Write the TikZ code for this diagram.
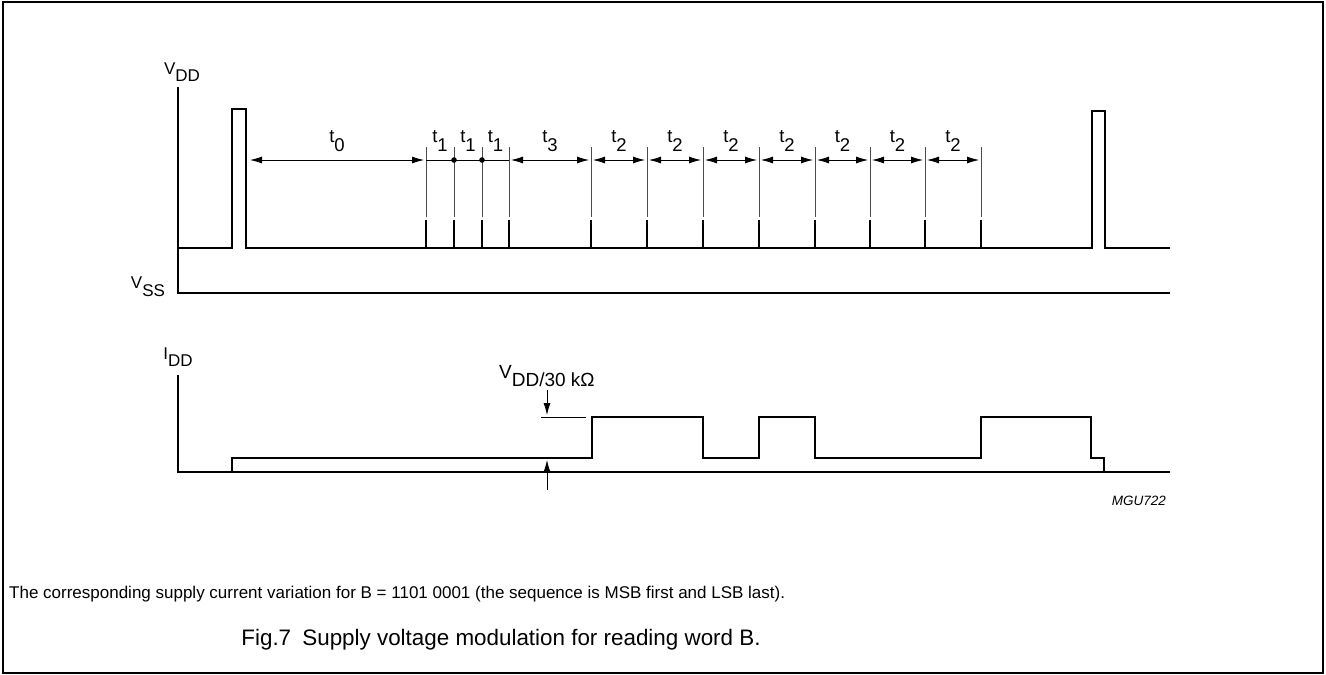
\documentclass[tikz,border=0pt]{standalone}
\usepackage{fontspec}
\setmainfont{Liberation Sans}
\usetikzlibrary{arrows.meta}
\newcommand\mysub[2]{#1\raisebox{-0.45em}{#2}}
\tikzset{
  sig/.style={line width=2.4pt, line join=miter},
  axis/.style={line width=1.1pt},
  ext/.style={line width=0.8pt, black!70},
  dim/.style={line width=0.8pt, {Latex[length=12pt,width=7pt]}-{Latex[length=12pt,width=7pt]}, shorten <=2pt, shorten >=2pt},
  lbl/.style={inner sep=0pt, font=\fontsize{17}{17}\selectfont},
  tlbl/.style={inner sep=0pt, font=\fontsize{18.5}{18.5}\selectfont},
}
\begin{document}
\begin{tikzpicture}[x=1pt,y=-1pt]
\useasboundingbox (0,0) rectangle (1326,675);
\draw[line width=1.2pt] (3,2) rectangle (1323,673);

% axes
\coordinate (vtop) at (178,87);
\coordinate (vorg) at (178,293);
\coordinate (vend) at (1170,293);
\draw[axis] (vtop) -- (vorg) -- (vend);
\coordinate (itop) at (178,375);
\coordinate (iorg) at (178,472);
\coordinate (iend) at (1170,472);
\draw[axis] (itop) -- (iorg) -- (iend);

\node[lbl] (lvdd) at (182,72) {\mysub{V}{DD}};
\node[lbl] (lvss) at (148,287) {\mysub{V}{SS}};
\node[lbl] (lidd) at (178,357) {\mysub{I}{DD}};

% voltage waveform
\draw[sig] (178,248) -- (232,248) -- (232,109) -- (246,109) -- (246,248) -- (1092,248) -- (1092,111) -- (1105,111) -- (1105,248) -- (1170,248);

% ticks
\foreach \n/\x in {1/426,2/454,3/482,4/509,5/591,6/647,7/703,8/759,9/815,10/870,11/925,12/981}{
  \coordinate (b\n) at (\x,248);
  \coordinate (m\n) at (\x,220);
  \coordinate (e\n) at (\x,217);
  \coordinate (a\n) at (\x,160);
  \coordinate (u\n) at (\x,147);
  \coordinate (t\n) at (\x,141);
  \draw[sig, line width=2.2pt, line cap=butt] (b\n) -- (m\n);
  \draw[ext] (e\n) -- (u\n);
}

% t0
\coordinate (p1r) at (248,160);
\draw[dim] (p1r) -- (a1);
\node[tlbl] (lt0) at (337,141) {\mysub{t}{0}};
% t1 segments
\draw[ext, black] (a1) -- (a4);
\fill (a2) circle (2.8pt);
\fill (a3) circle (2.8pt);
\foreach \i/\j in {1/2,2/3,3/4}{
  \path (t\i) -- (t\j) node[tlbl, midway] {\mysub{t}{1}};
}
% t3
\draw[dim] (a4) -- (a5);
\path (t4) -- (t5) node[tlbl, midway] (lt3) {\mysub{t}{3}};
% t2
\foreach \i/\j in {5/6,6/7,7/8,8/9,9/10,10/11,11/12}{
  \draw[dim] (a\i) -- (a\j);
  \path (t\i) -- (t\j) node[tlbl, midway] {\mysub{t}{2}};
}

% current waveform
\draw[sig] (232,472) -- (232,458) -- (592,458) -- (592,417) -- (703,417) -- (703,458) -- (759,458) -- (759,417) -- (815,417) -- (815,458) -- (981,458) -- (981,417) -- (1091,417) -- (1091,458) -- (1104,458) -- (1104,472);

% V_DD/30k annotation
\coordinate (hl1) at (541,417);
\coordinate (hl2) at (586,417);
\draw[line width=0.8pt] (hl1) -- (hl2);
\coordinate (dtop) at (547,390);
\coordinate (dtip) at (547,415);
\draw[line width=0.8pt, -{Latex[length=12pt,width=7pt]}] (dtop) -- (dtip);
\coordinate (ubot) at (547,490);
\coordinate (utip) at (547,460);
\draw[line width=0.8pt, -{Latex[length=12pt,width=7pt]}] (ubot) -- (utip);
\node[lbl, anchor=west, font=\fontsize{19}{19}\selectfont] (lvr) at (499,376) {\mysub{V}{DD/30 kΩ}};

\node[inner sep=0pt, anchor=east, font=\fontsize{13.5}{13.5}\selectfont\itshape] (mgu) at (1166,501) {MGU722};

\node[inner sep=0pt, anchor=base west, font=\fontsize{17}{18}\selectfont] (note) at (9,598) {The corresponding supply current variation for B = 1101 0001 (the sequence is MSB first and LSB last).};

\node[inner sep=0pt, font=\fontsize{22.4}{23}\selectfont] (cap) at (501,640) {Fig.7\enspace Supply voltage modulation for reading word B.};
\end{tikzpicture}
\end{document}
